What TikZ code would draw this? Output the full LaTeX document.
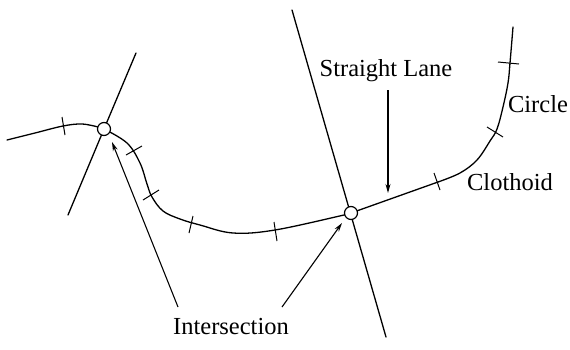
\documentclass[tikz,border=0pt]{standalone}
\usepackage{fontspec}
\setmainfont{Liberation Serif}
\usetikzlibrary{arrows.meta}
\begin{document}
\begin{tikzpicture}[x=1pt,y=-1pt,
  road/.style={line width=1.3pt, line cap=round},
  tickmark/.style={line width=1pt},
  junction/.style={circle, draw, line width=1.2pt, minimum size=13pt, inner sep=0pt, fill=white},
  lbl/.style={font=\fontsize{24.5}{28}\selectfont, inner sep=0pt},
  pointer/.style={line width=1.1pt, -{Stealth[length=9pt,width=5pt]}}]
\useasboundingbox (0,0) rectangle (570,349);
% crossing lines
\coordinate (lt) at (136,53);
\coordinate (lb) at (68,215);
\coordinate (rt) at (292,10);
\coordinate (rb) at (386,337);
\draw[road] (lt) -- (104,129) -- (lb);
\draw[road] (rt) -- (rb);
% road left part
\draw[road] plot[smooth, tension=0.6] coordinates {(7,140) (35,133) (63,126) (82,124) (98,127)};
\draw[road] plot[smooth, tension=0.6] coordinates {(104,129) (127,143) (140,163) (147,184) (152,197) (163,211) (180,219) (200,225) (233,233) (275,230) (344,215) (351,213)};
% road right part
\draw[road] (351,213) -- (438,182);
\draw[road] plot[smooth, tension=0.6] coordinates {(438,182) (460,173) (477,160) (490,141) (497,129) (503,107) (508,83) (510,63) (513,27)};
% ticks
\draw[tickmark] (62,117) -- (65,135);
\draw[tickmark] (126,155) -- (142,146);
\draw[tickmark] (143,200) -- (159,190);
\draw[tickmark] (193,216) -- (189,233);
\draw[tickmark] (274,222) -- (277,241);
\draw[tickmark] (434,173) -- (440,190);
\draw[tickmark] (487,127) -- (503,137);
\draw[tickmark] (498,62) -- (519,64);
% junctions
\node[junction] (jl) at (104,129) {};
\node[junction] (jr) at (351,213) {};
% labels
\node[lbl] (sl) at (386,71) {Straight Lane};
\node[lbl] (ci) at (538,104) {Circle};
\node[lbl] (cl) at (510,182) {Clothoid};
\node[lbl] (is) at (231,327) {Intersection};
% pointers
\coordinate (slt) at (388,90);
\coordinate (slh) at (388,193);
\draw[pointer] (slt) -- (slh);
\coordinate (i1t) at (178,307);
\coordinate (i1h) at (112,142);
\coordinate (i2t) at (282,307);
\coordinate (i2h) at (342,223);
\draw[pointer] (i1t) -- (i1h);
\draw[pointer] (i2t) -- (i2h);
\end{tikzpicture}
\end{document}
